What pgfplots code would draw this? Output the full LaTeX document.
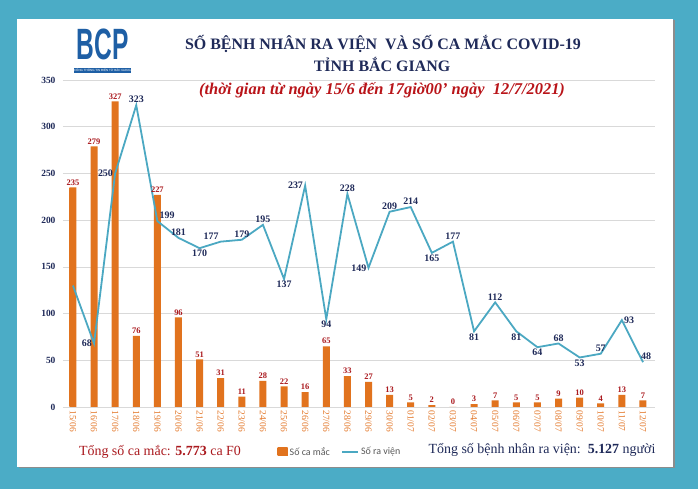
\documentclass[border=0pt]{standalone}
\usepackage{pgfplots}
\usepackage{pgfplotstable}
\pgfplotsset{compat=1.18}
\usepackage{fontspec}
\setmainfont{Liberation Serif}
\newfontfamily\legfont{Carlito}
\newfontfamily\logofont{Liberation Sans}
\definecolor{bgteal}{RGB}{75,172,198}
\definecolor{lineteal}{RGB}{75,168,194}
\definecolor{navy}{RGB}{31,42,89}
\definecolor{darkred}{RGB}{170,25,30}
\definecolor{tred}{RGB}{185,20,25}
\definecolor{barlight}{RGB}{250,160,75}
\definecolor{bardark}{RGB}{225,115,30}
\definecolor{xlab}{RGB}{228,122,45}
\definecolor{logoblue}{RGB}{30,95,165}
\definecolor{leggray}{RGB}{89,89,89}

\pgfplotstableread{
x y
0 235
1 279
2 327
3 76
4 227
5 96
6 51
7 31
8 11
9 28
10 22
11 16
12 65
13 33
14 27
15 13
16 5
17 2
18 0
19 3
20 7
21 5
22 5
23 9
24 10
25 4
26 13
27 7
}\barsdata

\pgfplotstableread{
x y
0 130
1 68
2 250
3 323
4 199
5 181
6 170
7 177
8 179
9 195
10 137
11 237
12 94
13 228
14 149
15 209
16 214
17 165
18 177
19 81
20 112
21 81
22 64
23 68
24 53
25 57
26 93
27 48
}\linedata

\pgfplotsset{linelab/.style={draw=none, mark=none, forget plot, nodes near coords, point meta=y,
  every node near coord/.append style={anchor=#1, font=\fontsize{10}{12}\selectfont\bfseries, text=navy, inner sep=2pt}}}

\begin{document}
\begin{tikzpicture}
\fill[bgteal] (0bp,0bp) rectangle (698bp,489bp);
\fill[black!45] (18.5bp,20.5bp) rectangle (674.5bp,468.5bp);
\fill[white] (17bp,22bp) rectangle (673bp,470bp);

% logo (one node)
\node[inner sep=0, anchor=north] at (102.5bp,460bp) {\setlength\fboxsep{1bp}\shortstack{\textcolor{logoblue}{\scalebox{0.56}[1]{\logofont\bfseries\fontsize{44}{44}\selectfont BCP}}\\[5bp]\colorbox{logoblue}{\makebox[55bp]{\textcolor{white}{\logofont\fontsize{3}{5}\selectfont CỔNG THÔNG TIN ĐIỆN TỬ BẮC GIANG}}}}};

% titles
\node[navy, font=\fontsize{16}{18}\selectfont\bfseries] at (383bp,445bp) {SỐ BỆNH NHÂN RA VIỆN\ \ VÀ SỐ CA MẮC COVID-19};
\node[navy, font=\fontsize{16}{18}\selectfont\bfseries] at (382bp,425bp) {TỈNH BẮC GIANG};
\node[tred, font=\fontsize{16.5}{18}\selectfont\bfseries\itshape] at (382bp,399bp) {(thời gian từ ngày 15/6 đến 17giờ00' ngày\ \ 12/7/2021)};

\begin{axis}[
  at={(63bp,82bp)}, anchor=south west,
  scale only axis, width=592bp, height=327bp,
  xmin=-0.47, xmax=27.57, ymin=0, ymax=350,
  ytick={0,50,...,350},
  xtick={0,...,27},
  xticklabels={15/06,16/06,17/06,18/06,19/06,20/06,21/06,22/06,23/06,24/06,25/06,26/06,27/06,28/06,29/06,30/06,01/07,02/07,03/07,04/07,05/07,06/07,07/07,08/07,09/07,10/07,11/07,12/07},
  xticklabel style={rotate=-90, anchor=west, font=\fontsize{9.5}{11}\selectfont, text=xlab},
  yticklabel style={font=\fontsize{9.5}{11}\selectfont\bfseries, text=navy, xshift=-4bp},
  /pgf/number format/assume math mode=true,
  axis line style={draw=none},
  major tick length=0pt,
  ymajorgrids,
  grid style={draw=black!15, line width=0.6pt},
  clip=false,
  legend style={at={(0.468,-0.1376)}, anchor=center, draw=none, fill=none,
    legend columns=2, font=\legfont\fontsize{10}{12}\selectfont, text=leggray,
    /tikz/every even column/.append style={column sep=10bp}},
]
\addplot[ybar, bar width=7bp, draw=none, left color=bardark, middle color=barlight, right color=bardark,
  nodes near coords,
  every node near coord/.append style={font=\fontsize{8.5}{10}\selectfont\bfseries, text=darkred, inner sep=2pt},
  legend image code/.code={\fill[bardark] (0bp,-4bp) rectangle (10bp,4bp);}]
  table[x=x,y=y]{\barsdata};
\addlegendentry{Số ca mắc}
\addplot[lineteal, line width=1.8pt, mark=none,
  legend image code/.code={\draw[lineteal, line width=1.2pt] (0bp,0bp) -- (16bp,0bp);}]
  table[x=x,y=y]{\linedata};
\addlegendentry{Số ra viện}
\addplot[linelab=east] coordinates {(1,68) (2,250) (11,237) (14,149)};
\addplot[linelab=south] coordinates {(3,323) (5,181) (8,179) (9,195) (13,228) (15,209) (16,214) (18,177) (20,112) (23,68) (25,57)};
\addplot[linelab=north] coordinates {(6,170) (10,137) (12,94) (17,165) (19,81) (21,81) (22,64) (24,53)};
\addplot[linelab=south west] coordinates {(4,199)};
\addplot[linelab=south east] coordinates {(7,177)};
\addplot[linelab=west] coordinates {(26,93)};
\addplot[linelab=south west, every node near coord/.append style={xshift=-4pt}] coordinates {(27,48)};
\end{axis}

% bottom texts
\node[darkred, font=\fontsize{14}{16}\selectfont] at (160bp,37bp) {Tổng số ca mắc: \textbf{5.773} ca F0};
\node[navy, font=\fontsize{14}{16}\selectfont] at (542bp,39bp) {Tổng số bệnh nhân ra viện:\ \ \textbf{5.127} người};
\end{tikzpicture}
\end{document}
